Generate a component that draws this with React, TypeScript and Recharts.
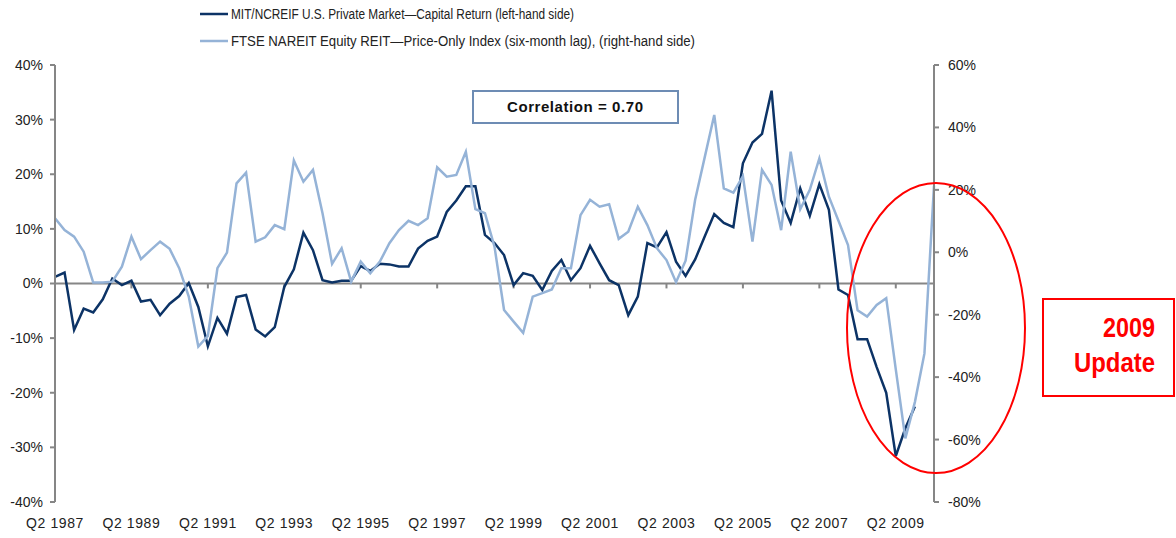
import React from "react"
import { LineChart, Line, XAxis, YAxis, ReferenceLine } from "recharts"

// quarterly labels, Q2 1987 .. Q2 2010
const quarters: string[] = []
for (let i = 0; i < 93; i++) {
  const q = 1 + i
  quarters.push(`Q${(q % 4) + 1} ${1987 + Math.floor(q / 4)}`)
}

// MIT/NCREIF capital return, % (left axis)
const capitalReturn = [
  1.2, 2.0, -8.5, -4.6, -5.3, -2.9, 0.9, -0.3, 0.5, -3.3, -3.0, -5.8, -3.7, -2.3, 0.1, -4.3,
  -11.5, -6.3, -9.2, -2.5, -2.1, -8.4, -9.7, -8.0, -0.6, 2.6, 9.3, 6.1, 0.6, 0.2, 0.5, 0.5,
  3.2, 2.3, 3.6, 3.5, 3.1, 3.1, 6.4, 7.8, 8.6, 13.1, 15.2, 17.8, 17.8, 8.9, 7.4, 5.2,
  -0.3, 1.9, 1.4, -1.2, 2.3, 4.3, 0.6, 2.8, 6.9, 3.7, 0.6, -0.3, -5.8, -2.4, 7.4, 6.6,
  9.4, 4.0, 1.4, 4.4, 8.6, 12.7, 11.1, 10.3, 22.0, 25.8, 27.4, 35.3, 15.2, 11.1, 17.4, 12.4,
  18.2, 13.5, -1.1, -2.1, -10.2, -10.2, -15.3, -20.0, -31.6, -26.5, -22.5, null, null,
]

// FTSE NAREIT price-only index, six-month lag, % (right axis)
const reitPrice = [
  10.9, 7.1, 5.0, 0.2, -9.7, -9.7, -9.4, -4.6, 5.0, -2.2, 0.7, 3.4, 1.1, -5.1, -14.2, -30.2,
  -26.8, -5.1, -0.1, 22.1, 25.5, 3.4, 4.8, 8.7, 7.4, 29.4, 22.6, 26.4, 12.5, -3.7, 1.3, -9.4,
  -3.0, -6.7, -3.0, 2.9, 7.1, 10.1, 8.7, 10.9, 27.2, 24.2, 24.8, 32.2, 13.8, 12.5, 1.8, -18.5,
  -22.2, -25.8, -14.2, -13.1, -11.9, -5.1, -5.1, 11.9, 16.8, 14.6, 15.4, 4.3, 6.6, 14.6, 8.7,
  1.3, -2.5, -9.6, -2.7, 16.8, 30.4, 44.0, 20.5, 19.1, 24.4, 3.4, 26.4, 21.6, 7.1, 32.2, 13.8,
  20.0, 30.1, 17.8, 10.1, 2.3, -18.6, -20.6, -16.9, -14.7, -37.5, -59.6, -48.0, -32.4, 21.3,
]

const leftTicks = [-40, -30, -20, -10, 0, 10, 20, 30, 40]
const rightTicks = [-80, -60, -40, -20, 0, 20, 40, 60]

const data = quarters.map((quarter, i) => ({
  quarter,
  capital: capitalReturn[i],
  reit: reitPrice[i],
}))

// quarters that carry a label get a small tick on the zero line
const labelled = quarters.filter((_, i) => i > 0 && i % 8 === 0)

const DARK = "#0c3366"
const LIGHT = "#95b3d7"
const AXIS = "#868686"
const SANS = "'Liberation Sans', Arial, sans-serif"
const tickFont = { fontFamily: SANS, fontSize: 14, fill: "#222" }

const pct = (v: number) => `${v}%`

export default function App() {
  return (
    <div style={{ position: "absolute", left: 0, top: 0, width: 1176, height: 538, background: "#fff" }}>
      <LineChart width={1176} height={538} data={data} margin={{ top: 65, right: 0, bottom: 0, left: 0 }}>
        <XAxis
          dataKey="quarter"
          interval={7}
          axisLine={false}
          tickLine={false}
          tickSize={0}
          tickMargin={16}
          height={36}
          tick={{ ...tickFont, letterSpacing: 0.6 }}
        />
        <YAxis
          yAxisId="left"
          domain={[-40, 40]}
          ticks={leftTicks}
          tickFormatter={pct}
          width={55}
          stroke={AXIS}
          strokeWidth={2}
          tickSize={5}
          tickMargin={7}
          tick={tickFont}
          allowDataOverflow
        />
        <YAxis
          yAxisId="right"
          orientation="right"
          domain={[-80, 60]}
          ticks={rightTicks}
          tickFormatter={pct}
          width={242}
          stroke={AXIS}
          strokeWidth={2}
          tickSize={5}
          tickMargin={9}
          tick={{ ...tickFont, textAnchor: "start" }}
          allowDataOverflow
        />
        <ReferenceLine yAxisId="left" y={0} stroke={AXIS} strokeWidth={2} />
        {labelled.map((q) => (
          <ReferenceLine
            key={q}
            yAxisId="left"
            segment={[
              { x: q, y: 0 },
              { x: q, y: -0.9 },
            ]}
            stroke={AXIS}
            strokeWidth={2}
          />
        ))}
        <Line
          yAxisId="left"
          dataKey="capital"
          stroke={DARK}
          strokeWidth={2.5}
          dot={false}
          type="linear"
          isAnimationActive={false}
        />
        <Line
          yAxisId="right"
          dataKey="reit"
          stroke={LIGHT}
          strokeWidth={2.5}
          dot={false}
          type="linear"
          isAnimationActive={false}
        />
      </LineChart>

      {/* legend and annotations */}
      <svg width={1176} height={538} style={{ position: "absolute", left: 0, top: 0, pointerEvents: "none" }}>
        <line x1={200} x2={228} y1={14} y2={14} stroke={DARK} strokeWidth={2.5} />
        <text x={231} y={19} fontFamily={SANS} fontSize={14} fill="#222" textLength={343} lengthAdjust="spacingAndGlyphs">
          MIT/NCREIF U.S. Private Market—Capital Return (left-hand side)
        </text>
        <line x1={200} x2={228} y1={41} y2={41} stroke={LIGHT} strokeWidth={2.5} />
        <text x={231} y={46} fontFamily={SANS} fontSize={14} fill="#222" textLength={464} lengthAdjust="spacingAndGlyphs">
          FTSE NAREIT Equity REIT—Price-Only Index (six-month lag), (right-hand side)
        </text>

        <rect x={473} y={91} width={205} height={32} fill="#fff" stroke="#6d8cb4" strokeWidth={2} />
        <text x={575} y={112} textAnchor="middle" fontFamily={SANS} fontWeight="bold" fontSize={15} fill="#111" textLength={136} lengthAdjust="spacing">
          Correlation = 0.70
        </text>

        <ellipse cx={936} cy={328} rx={89} ry={145} fill="none" stroke="#ff0000" strokeWidth={2} />

        <rect x={1043} y={299} width={131} height={97} fill="#fff" stroke="#ff0000" strokeWidth={2} />
        <text x={1155} y={337} textAnchor="end" fontFamily={SANS} fontWeight="bold" fontSize={28} fill="#ff0000" textLength={52} lengthAdjust="spacingAndGlyphs">
          2009
        </text>
        <text x={1155} y={372} textAnchor="end" fontFamily={SANS} fontWeight="bold" fontSize={28} fill="#ff0000" textLength={81} lengthAdjust="spacingAndGlyphs">
          Update
        </text>
      </svg>
    </div>
  )
}
